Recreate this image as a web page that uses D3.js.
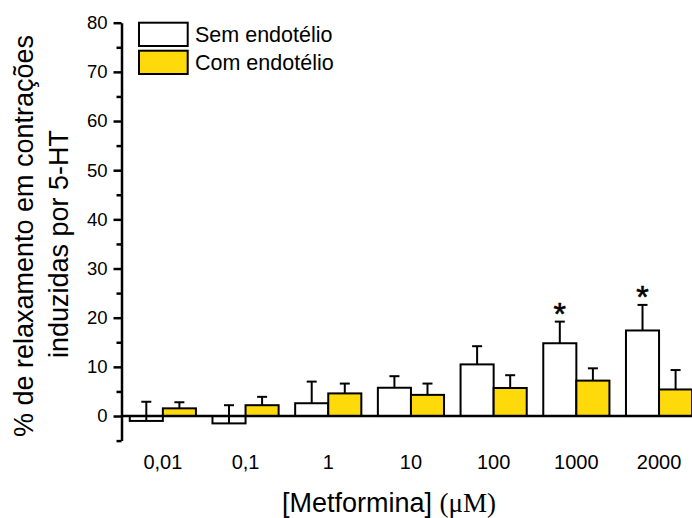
<!DOCTYPE html>
<html>
<head>
  <meta charset="utf-8">
  <title>Metformina</title>
  <style>
    body { margin: 0; background: #fff; }
    svg { font-family: "Liberation Sans", Arial, sans-serif; }
    .bar { stroke: #000; stroke-width: 2; }
    .err { stroke: #000; stroke-width: 2; fill: none; }
    .axis path, .axis line { stroke: #000; stroke-width: 2.5; }
  </style>
</head>
<body>
  <svg id="canvas" width="692" height="518"></svg>
  <script src="https://cdnjs.cloudflare.com/ajax/libs/d3/7.8.5/d3.min.js"></script>
  <script>
    const doses = ["0,01", "0,1", "1", "10", "100", "1000", "2000"];
    const series = ["Sem endotélio", "Com endotélio"];
    const semMean = [-1.0, -1.5, 2.6, 5.75, 10.5, 14.8, 17.4];
    const semErr = [3.9, 3.7, 4.4, 2.35, 3.7, 4.4, 5.2];
    const comMean = [1.56, 2.2, 4.6, 4.3, 5.7, 7.2, 5.4];
    const comErr = [1.24, 1.7, 2.0, 2.3, 2.6, 2.5, 3.95];
    const semSignif = [false, false, false, false, false, true, true];
    const yTicks = d3.range(-5, 81, 5);

    const colors = { "Sem endotélio": "#ffffff", "Com endotélio": "#ffda0a" };

    const svg = d3.select("svg#canvas");

    const y = d3.scaleLinear().domain([-5, 80]).range([440.6, 22.7]);
    const x = d3.scaleBand().domain(doses).range([121.5, 121.5 + 7 * 82.7])
      .paddingInner(0.2).paddingOuter(0.1);
    const xs = d3.scaleBand().domain(series).range([0, x.bandwidth()]);

    const rows = doses.map((d, i) => [
      { dose: d, s: series[0], v: semMean[i], e: semErr[i], sig: semSignif[i] },
      { dose: d, s: series[1], v: comMean[i], e: comErr[i], sig: false }
    ]).flat();

    const plot = svg.append("g");

    plot.selectAll(".bar")
      .data(rows)
      .enter().append("rect")
      .attr("class", "bar")
      .attr("x", r => x(r.dose) + xs(r.s))
      .attr("width", xs.bandwidth())
      .attr("y", r => y(Math.max(0, r.v)))
      .attr("height", r => Math.abs(y(r.v) - y(0)))
      .attr("fill", r => colors[r.s]);

    const cx = r => x(r.dose) + xs(r.s) + xs.bandwidth() / 2;

    const err = plot.selectAll(".errg")
      .data(rows)
      .enter().append("g");
    err.append("line").attr("class", "err")
      .attr("x1", cx).attr("x2", cx)
      .attr("y1", r => y(r.v)).attr("y2", r => y(r.v + r.e));
    err.append("line").attr("class", "err")
      .attr("x1", r => cx(r) - 5).attr("x2", r => cx(r) + 5)
      .attr("y1", r => y(r.v + r.e)).attr("y2", r => y(r.v + r.e));

    plot.selectAll(".star")
      .data(rows.filter(r => r.sig))
      .enter().append("text")
      .attr("x", cx)
      .attr("y", r => y(r.v + r.e) + 3)
      .attr("text-anchor", "middle")
      .attr("font-size", 32)
      .attr("stroke", "#000").attr("stroke-width", 0.6)
      .text("*");

    // x axis line at zero
    svg.append("line")
      .attr("x1", x.range()[0]).attr("x2", x.range()[1])
      .attr("y1", y(0)).attr("y2", y(0))
      .attr("stroke", "#000").attr("stroke-width", 2.5);

    const yAxis = svg.append("g")
      .attr("class", "axis")
      .attr("transform", "translate(121.5,0)")
      .call(d3.axisLeft(y).tickValues(yTicks).tickSize(5).tickSizeOuter(0).tickPadding(9)
        .tickFormat(d => (d >= 0 && d % 10 === 0) ? d : ""));
    yAxis.selectAll(".tick line").attr("x2", d => d % 10 === 0 ? -8 : -5);
    yAxis.selectAll(".tick text")
      .attr("font-size", 18.5)
      .attr("font-family", "Liberation Sans, Arial, sans-serif")
      .attr("fill", "#000");

    svg.selectAll(".xlab")
      .data(doses)
      .enter().append("text")
      .attr("x", d => x(d) + x.bandwidth() / 2)
      .attr("y", 469)
      .attr("text-anchor", "middle")
      .attr("font-size", 20)
      .text(d => d);

    const xt = svg.append("text")
      .attr("x", 389).attr("y", 512)
      .attr("text-anchor", "middle")
      .attr("font-size", 27);
    xt.append("tspan").text("[Metformina] ");
    xt.append("tspan").attr("font-family", "Liberation Serif, Times New Roman, serif").text("(μM)");

    svg.append("text")
      .attr("transform", "translate(33,236)rotate(-90)")
      .attr("text-anchor", "middle")
      .attr("font-size", 27)
      .text("% de relaxamento em contrações");
    svg.append("text")
      .attr("transform", "translate(68,244)rotate(-90)")
      .attr("text-anchor", "middle")
      .attr("font-size", 27)
      .text("induzidas por 5-HT");

    const legend = svg.selectAll(".leg")
      .data(series)
      .enter().append("g")
      .attr("transform", (_, i) => "translate(139," + (22.7 + i * 28) + ")");
    legend.append("rect")
      .attr("width", 48.7).attr("height", 23.3)
      .attr("fill", s => colors[s])
      .attr("stroke", "#000").attr("stroke-width", 2);
    legend.append("text")
      .attr("x", 56).attr("y", 19.5)
      .attr("font-size", 21.5)
      .text(s => s);
  </script>
</body>
</html>
